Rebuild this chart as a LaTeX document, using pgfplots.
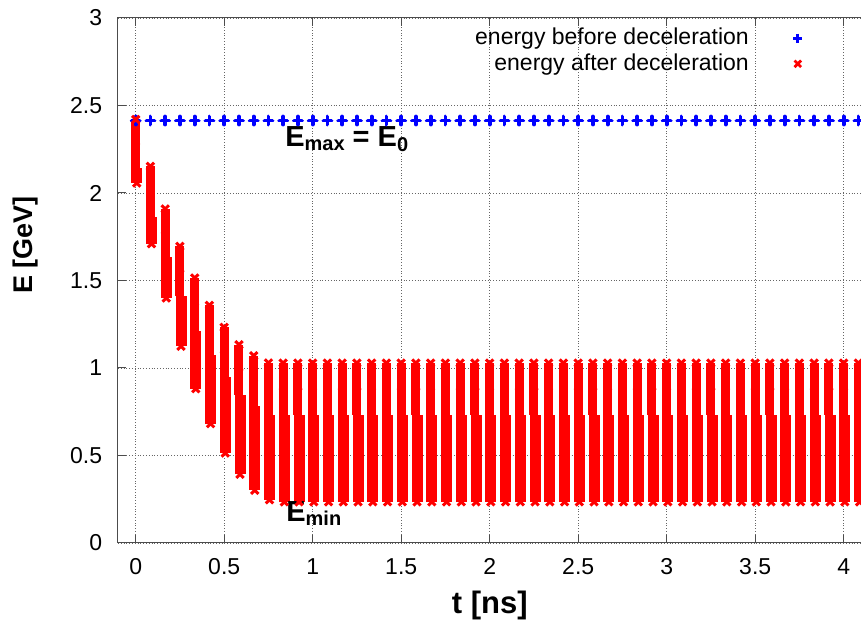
\documentclass[border=0pt]{standalone}
\usepackage{fontspec}
\setmainfont{Liberation Sans}
\usepackage{pgfplots}
\usepackage{pgfplotstable}
\pgfplotsset{compat=1.18}

\pgfplotstableread{
t y
0 2.414
0.0833 2.414
0.1667 2.414
0.25 2.414
0.3333 2.414
0.4167 2.414
0.5 2.414
0.5833 2.414
0.6667 2.414
0.75 2.414
0.8333 2.414
0.9167 2.414
1 2.414
1.0833 2.414
1.1667 2.414
1.25 2.414
1.3333 2.414
1.4167 2.414
1.5 2.414
1.5833 2.414
1.6667 2.414
1.75 2.414
1.8333 2.414
1.9167 2.414
2 2.414
2.0833 2.414
2.1667 2.414
2.25 2.414
2.3333 2.414
2.4167 2.414
2.5 2.414
2.5833 2.414
2.6667 2.414
2.75 2.414
2.8333 2.414
2.9167 2.414
3 2.414
3.0833 2.414
3.1667 2.414
3.25 2.414
3.3333 2.414
3.4167 2.414
3.5 2.414
3.5833 2.414
3.6667 2.414
3.75 2.414
3.8333 2.414
3.9167 2.414
4 2.414
4.0833 2.414
4.1667 2.414
}\before

% upper part of each bunch: centre y, half length e, top energy
\pgfplotstableread{
t y e top
0 2.28 0.14 2.42
0.0833 2.0085 0.1435 2.152
0.1667 1.7725 0.1365 1.909
0.25 1.5525 0.1425 1.695
0.3333 1.362 0.152 1.514
0.4167 1.215 0.143 1.358
0.5 1.0895 0.1425 1.232
0.5833 0.9895 0.1435 1.133
0.6667 0.9265 0.1435 1.070
0.75 0.88 0.149 1.029
0.8333 0.879 0.149 1.028
0.9167 0.879 0.149 1.028
1 0.879 0.149 1.028
1.0833 0.879 0.149 1.028
1.1667 0.879 0.149 1.028
1.25 0.879 0.149 1.028
1.3333 0.879 0.149 1.028
1.4167 0.879 0.149 1.028
1.5 0.879 0.149 1.028
1.5833 0.879 0.149 1.028
1.6667 0.879 0.149 1.028
1.75 0.879 0.149 1.028
1.8333 0.879 0.149 1.028
1.9167 0.879 0.149 1.028
2 0.879 0.149 1.028
2.0833 0.879 0.149 1.028
2.1667 0.879 0.149 1.028
2.25 0.879 0.149 1.028
2.3333 0.879 0.149 1.028
2.4167 0.879 0.149 1.028
2.5 0.879 0.149 1.028
2.5833 0.879 0.149 1.028
2.6667 0.879 0.149 1.028
2.75 0.879 0.149 1.028
2.8333 0.879 0.149 1.028
2.9167 0.879 0.149 1.028
3 0.879 0.149 1.028
3.0833 0.879 0.149 1.028
3.1667 0.879 0.149 1.028
3.25 0.879 0.149 1.028
3.3333 0.879 0.149 1.028
3.4167 0.879 0.149 1.028
3.5 0.879 0.149 1.028
3.5833 0.879 0.149 1.028
3.6667 0.879 0.149 1.028
3.75 0.879 0.149 1.028
3.8333 0.879 0.149 1.028
3.9167 0.879 0.149 1.028
4 0.879 0.149 1.028
4.0833 0.879 0.149 1.028
}\afterup

% lower part of each bunch (slightly later): centre y, half length e, bottom energy
\pgfplotstableread{
t y e bot
0.006 2.0985 0.0415 2.057
0.0893 1.7875 0.0775 1.710
0.1727 1.518 0.118 1.400
0.256 1.267 0.143 1.124
0.3393 1.046 0.164 0.882
0.4227 0.877 0.195 0.682
0.506 0.7305 0.2165 0.514
0.5893 0.6195 0.2265 0.393
0.6727 0.542 0.241 0.301
0.756 0.489 0.242 0.247
0.8393 0.4825 0.2475 0.235
0.9227 0.4825 0.2475 0.235
1.006 0.4825 0.2475 0.235
1.0893 0.4825 0.2475 0.235
1.1727 0.4825 0.2475 0.235
1.256 0.4825 0.2475 0.235
1.3393 0.4825 0.2475 0.235
1.4227 0.4825 0.2475 0.235
1.506 0.4825 0.2475 0.235
1.5893 0.4825 0.2475 0.235
1.6727 0.4825 0.2475 0.235
1.756 0.4825 0.2475 0.235
1.8393 0.4825 0.2475 0.235
1.9227 0.4825 0.2475 0.235
2.006 0.4825 0.2475 0.235
2.0893 0.4825 0.2475 0.235
2.1727 0.4825 0.2475 0.235
2.256 0.4825 0.2475 0.235
2.3393 0.4825 0.2475 0.235
2.4227 0.4825 0.2475 0.235
2.506 0.4825 0.2475 0.235
2.5893 0.4825 0.2475 0.235
2.6727 0.4825 0.2475 0.235
2.756 0.4825 0.2475 0.235
2.8393 0.4825 0.2475 0.235
2.9227 0.4825 0.2475 0.235
3.006 0.4825 0.2475 0.235
3.0893 0.4825 0.2475 0.235
3.1727 0.4825 0.2475 0.235
3.256 0.4825 0.2475 0.235
3.3393 0.4825 0.2475 0.235
3.4227 0.4825 0.2475 0.235
3.506 0.4825 0.2475 0.235
3.5893 0.4825 0.2475 0.235
3.6727 0.4825 0.2475 0.235
3.756 0.4825 0.2475 0.235
3.8393 0.4825 0.2475 0.235
3.9227 0.4825 0.2475 0.235
4.006 0.4825 0.2475 0.235
4.0893 0.4825 0.2475 0.235
}\afterlow

\begin{document}
\begin{tikzpicture}
\path[use as bounding box] (-59pt,-38.5pt) rectangle (371.5pt,271.5pt);
\begin{axis}[
  at={(0,0)}, anchor=south west,
  scale only axis,
  width=380.55pt, height=262.5pt,
  xmin=-0.1, xmax=4.2, ymin=0, ymax=3,
  xtick={0,0.5,1,1.5,2,2.5,3,3.5,4},
  ytick={0,0.5,1,1.5,2,2.5,3},
  tick align=inside,
  major tick length=4pt,
  axis line style={black!70, line width=0.5pt},
  tick style={black!70, line width=0.5pt},
  grid=major,
  grid style={densely dotted, black!60, line width=0.45pt},
  /pgf/number format/assume math mode=true,
  ticklabel style={font=\fontsize{11.5}{13}\selectfont},
  xticklabel style={yshift=-4.4pt},
  yticklabel style={xshift=-4.4pt},
  xlabel={\textbf{t [ns]}},
  ylabel={\textbf{E [GeV]}},
  xlabel style={font=\fontsize{15.5}{17}\selectfont, at={(axis description cs:0.4884,0)}, anchor=base, yshift=-35.2pt},
  ylabel style={font=\fontsize{13.5}{15}\selectfont, at={(axis description cs:0,0.5677)}, anchor=center, yshift=46pt},
  legend style={at={(axis description cs:0.9076,0.9926)}, anchor=north east,
    draw=none, fill=none, font=\fontsize{11.5}{13}\selectfont,
    nodes={inner sep=1pt}, row sep=1pt},
  legend cell align=right,
  legend plot pos=right,
  legend image code/.code={\path (0cm,0cm); \draw[#1,mark repeat=1] plot coordinates {(0.8cm,0cm)};},
]
\addlegendimage{only marks, mark=+, color=blue, mark size=2.3pt, line width=1.4pt}
\addlegendentry{energy before deceleration}
\addlegendimage{only marks, mark=x, color=red, mark size=2.3pt, line width=1.4pt}
\addlegendentry{energy after deceleration}

\addplot[forget plot, only marks, mark=+, color=blue, mark size=2.0pt,
  mark options={line width=1.9pt, line cap=round}] table[x=t,y=y] {\before};

\addplot[forget plot, only marks, mark=none, color=red,
  error bars/.cd, y dir=both, y explicit, error mark=none,
  error bar style={line width=4.5pt, red}]
  table[x=t, y=y, y error=e] {\afterup};
\addplot[forget plot, only marks, mark=none, color=red,
  error bars/.cd, y dir=both, y explicit, error mark=none,
  error bar style={line width=5.5pt, red}]
  table[x=t, y=y, y error=e] {\afterlow};
\addplot[forget plot, only marks, mark=x, color=red, mark size=2.6pt,
  mark options={line width=1.5pt}] table[x=t, y=top] {\afterup};
\addplot[forget plot, only marks, mark=x, color=red, mark size=2.6pt,
  mark options={line width=1.5pt}] table[x=t, y=bot] {\afterlow};

\node[anchor=base west, inner sep=0pt, font=\fontsize{14.5}{16}\selectfont\bfseries]
  at (axis cs:0.843,2.265) {E\raisebox{-1.8pt}{\fontsize{10}{11}\selectfont max} = E\raisebox{-2.5pt}{\fontsize{10}{11}\selectfont 0}};
\node[anchor=base west, inner sep=0pt, font=\fontsize{14.5}{16}\selectfont\bfseries]
  at (axis cs:0.849,0.123) {E\raisebox{-1.8pt}{\fontsize{10}{11}\selectfont min}};
\end{axis}
\end{tikzpicture}
\end{document}
